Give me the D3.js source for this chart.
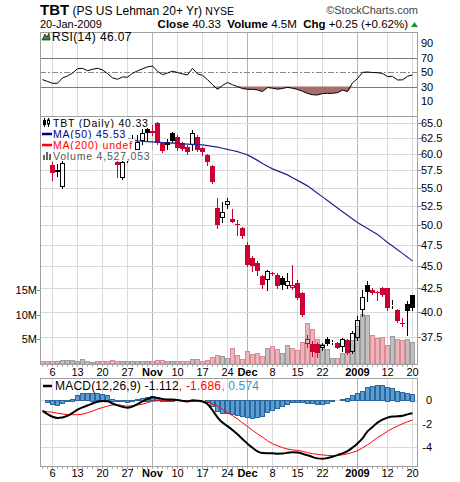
<!DOCTYPE html>
<html>
<head>
<meta charset="utf-8">
<script src="https://cdn.jsdelivr.net/npm/d3@7"></script>
<style>
  body { margin: 0; background: #fff; }
  text { font-family: "Liberation Sans", Arial, sans-serif; white-space: pre; }
</style>
</head>
<body>
<div id="chart"></div>
<script>

// trading days shown on the chart
const dates = [
    '2008-10-02','2008-10-03','2008-10-06','2008-10-07','2008-10-08','2008-10-09','2008-10-10','2008-10-13','2008-10-14','2008-10-15',
    '2008-10-16','2008-10-17','2008-10-20','2008-10-21','2008-10-22','2008-10-23','2008-10-24','2008-10-27','2008-10-28','2008-10-29',
    '2008-10-30','2008-10-31','2008-11-03','2008-11-04','2008-11-05','2008-11-06','2008-11-07','2008-11-10','2008-11-11','2008-11-12',
    '2008-11-13','2008-11-14','2008-11-17','2008-11-18','2008-11-19','2008-11-20','2008-11-21','2008-11-24','2008-11-25','2008-11-26',
    '2008-11-28','2008-12-01','2008-12-02','2008-12-03','2008-12-04','2008-12-05','2008-12-08','2008-12-09','2008-12-10','2008-12-11',
    '2008-12-12','2008-12-15','2008-12-16','2008-12-17','2008-12-18','2008-12-19','2008-12-22','2008-12-23','2008-12-24','2008-12-26',
    '2008-12-29','2008-12-30','2008-12-31','2009-01-02','2009-01-05','2009-01-06','2009-01-07','2009-01-08','2009-01-09','2009-01-12',
    '2009-01-13','2009-01-14','2009-01-15','2009-01-16','2009-01-20'
];

const opens = [
    61.4, 60.5, 58.31, 57.56, 55.06, 59.5, 60.6, 61.6, 62.4, 63.0,
    62.3, 63.5, 63.8, 62.6, 61.0, 58.80, 56.35, 59.1, 60.2, 60.60,
    62.0, 63.96, 63.6, 64.90, 61.60, 61.9, 63.25, 62.7, 61.65, 61.11,
    61.3, 62.70, 60.86, 59.82, 58.16, 52.17, 50.85, 52.61, 50.72, 50.1,
    49.56, 47.49, 45.89, 45.30, 43.78, 43.33, 44.19, 43.97, 43.6, 42.75,
    42.49, 43.04, 41.95, 36.81, 36.81, 36.8, 36.38, 37.32, 37.0, 36.91,
    36.50, 37.2, 36.07, 37.39, 40.19, 42.78, 42.31, 42.05, 42.45, 42.49,
    40.6, 40.19, 38.85, 40.79, 41.70
];
const highs = [
    62.0, 61.0, 58.8, 58.5, 59.06, 60.8, 61.8, 62.8, 63.6, 63.5,
    63.8, 64.6, 64.2, 62.9, 61.2, 59.3, 59.5, 61.0, 62.98, 62.9,
    63.9, 64.3, 64.6, 65.17, 61.9, 62.3, 63.4, 63.0, 61.9, 61.3,
    63.79, 62.9, 61.0, 60.0, 58.3, 53.53, 53.06, 53.6, 52.03, 50.63,
    49.7, 47.8, 46.1, 45.5, 43.97, 44.5, 44.3, 44.2, 43.8, 44.15,
    45.10, 43.4, 42.1, 37.7, 37.06, 36.95, 36.9, 37.45, 37.15, 37.0,
    37.4, 37.25, 38.05, 39.51, 42.31, 43.22, 42.5, 42.2, 42.6, 42.55,
    41.2, 40.25, 39.34, 41.06, 41.78
];
const lows = [
    60.3, 59.6, 56.11, 56.6, 55.0, 59.4, 60.2, 61.2, 61.9, 61.8,
    62.0, 63.0, 62.4, 60.9, 59.6, 56.58, 56.2, 58.8, 59.56, 60.3,
    61.5, 62.0, 62.9, 61.49, 60.2, 60.8, 61.8, 60.6, 60.5, 60.0,
    60.5, 60.4, 59.8, 58.3, 55.7, 49.56, 50.41, 52.17, 50.3, 48.72,
    48.3, 44.95, 44.34, 43.97, 42.49, 42.31, 43.9, 42.5, 42.4, 42.5,
    42.4, 41.3, 39.5, 36.5, 35.7, 35.6, 36.2, 36.7, 36.8, 36.4,
    36.16, 35.9, 35.95, 37.2, 39.51, 41.06, 41.8, 41.25, 41.6, 40.2,
    40.4, 38.95, 38.58, 37.70, 40.19
];
const closes = [
    60.7, 59.9, 57.17, 57.25, 58.56, 60.5, 61.5, 62.5, 63.2, 62.2,
    63.4, 64.0, 62.8, 61.3, 59.8, 58.31, 58.80, 59.2, 60.4, 61.90,
    63.25, 63.35, 63.2, 61.65, 60.45, 61.4, 62.0, 60.86, 60.8, 60.33,
    63.25, 60.60, 60.33, 58.80, 55.86, 49.98, 51.72, 53.20, 50.41, 49.95,
    48.51, 45.10, 44.91, 44.34, 42.86, 44.34, 44.08, 42.67, 42.8, 43.22,
    42.86, 41.42, 39.68, 37.32, 36.07, 36.0, 36.75, 36.85, 37.02, 36.44,
    37.32, 35.98, 37.87, 39.18, 41.50, 42.06, 41.95, 41.9, 41.70, 40.37,
    40.71, 39.08, 38.75, 40.08, 40.33
];
// volume, millions of shares
const volumes = [
    0.6, 0.6, 0.6, 0.6, 0.88, 0.88, 0.88, 0.6, 1.1, 0.6,
    0.4, 0.6, 0.6, 0.6, 0.88, 0.6, 0.6, 0.6, 0.6, 0.6,
    0.6, 0.6, 0.6, 0.88, 0.88, 0.6, 0.6, 0.6, 0.6, 0.6,
    1.1, 1.1, 0.6, 0.88, 1.43, 1.84, 1.6, 1.25, 3.25, 1.75,
    1.0, 2.6, 2.1, 2.3, 1.6, 3.35, 3.6, 3.0, 2.2, 3.95,
    3.3, 2.8, 4.5, 8.4, 7.2, 5.0, 4.0, 3.0, 1.2, 1.2,
    2.2, 3.5, 4.8, 7.7, 10.2, 10.0, 6.0, 5.4, 5.6, 3.8,
    5.8, 5.1, 4.9, 5.0, 4.527053
];
const ma50 = [
    null, null, null, null, null, null, null, null, null, null,
    null, null, null, null, 62.89, 62.70, 62.52, 62.35, 62.18, 62.01,
    61.95, 61.90, 61.85, 61.80, 61.75, 61.70, 61.65, 61.60, 61.54, 61.49,
    61.45, 61.42, 61.38, 61.26, 61.14, 61.02, 60.85, 60.67, 60.49, 60.31,
    60.07, 59.82, 59.40, 58.98, 58.50, 58.10, 57.71, 57.41, 57.12, 56.82,
    56.42, 56.03, 55.63, 55.24, 54.72, 54.21, 53.70, 53.20, 52.70, 52.20,
    51.70, 51.22, 50.75, 50.29, 49.90, 49.52, 49.14, 48.76, 48.27, 47.77,
    47.33, 46.89, 46.45, 46.00, 45.53
];
const rsi = [
    39.5, 37, 34.4, 34.4, 41.8, 44.5, 48.5, 54.5, 55.1, 51.8,
    53.8, 55.1, 53.0, 47.8, 42, 40, 43.2, 42.8, 48.3, 51.5,
    54.5, 57, 58.3, 51, 46.3, 48.6, 51.2, 49.3, 47.4, 46.1,
    55, 47.5, 45.4, 39.5, 32.5, 26.1, 31.5, 35.6, 32.4, 29.9,
    27.2, 26.1, 26.1, 25.3, 23, 28.5, 27.7, 26.3, 27.3, 28.8,
    27.6, 26, 23.4, 20.5, 18.6, 18.3, 20.3, 20.6, 20.6, 21.5,
    25, 23, 35, 41, 49.5, 50, 49.3, 49, 48, 43.7,
    44, 39, 39.2, 44, 46.07
];
const macd = [
    -0.9, -1.17, -1.4, -1.5, -1.46, -1.32, -1.08, -0.8, -0.6, -0.44,
    -0.27, -0.12, -0.05, -0.08, -0.27, -0.43, -0.55, -0.64, -0.53, -0.32,
    -0.1, 0.1, 0.27, 0.2, 0.12, 0.06, 0.06, 0.02, -0.05, -0.1,
    0, -0.03, -0.1, -0.32, -0.85, -1.45, -1.9, -2.2, -2.53, -2.9,
    -3.3, -3.7, -4.05, -4.35, -4.5, -4.51, -4.51, -4.55, -4.54, -4.48,
    -4.42, -4.45, -4.55, -4.68, -4.83, -4.95, -4.98, -4.92, -4.81, -4.67,
    -4.53, -4.33, -4.03, -3.68, -3.25, -2.65, -2.28, -1.9, -1.65, -1.48,
    -1.38, -1.37, -1.32, -1.2, -1.112
];
const signal = [
    -0.9, -0.97, -1.02, -1.1, -1.17, -1.22, -1.23, -1.23, -1.18, -1.05,
    -0.92, -0.75, -0.62, -0.5, -0.4, -0.37, -0.45, -0.5, -0.47, -0.4,
    -0.33, -0.2, -0.09, -0.05, -0.02, 0, 0, 0, -0.01, -0.04,
    -0.05, -0.07, -0.09, -0.17, -0.3, -0.48, -0.78, -1.05, -1.3, -1.6,
    -1.92, -2.23, -2.55, -2.87, -3.15, -3.45, -3.7, -3.88, -4.03, -4.15,
    -4.22, -4.27, -4.35, -4.45, -4.55, -4.6, -4.66, -4.7, -4.71, -4.69,
    -4.65, -4.56, -4.44, -4.3, -4.05, -3.8, -3.5, -3.18, -2.92, -2.65,
    -2.4, -2.2, -2.0, -1.82, -1.686
];
const hist = [
    0, -0.2, -0.38, -0.4, -0.29, -0.1, 0.15, 0.43, 0.58, 0.61,
    0.65, 0.63, 0.57, 0.42, 0.13, -0.06, -0.1, -0.14, -0.06, 0.08,
    0.23, 0.3, 0.36, 0.25, 0.14, 0.06, 0.06, 0.02, -0.04, -0.06,
    0.05, 0.04, -0.01, -0.15, -0.55, -0.97, -1.12, -1.15, -1.23, -1.3,
    -1.38, -1.47, -1.5, -1.48, -1.35, -1.06, -0.81, -0.67, -0.51, -0.33,
    -0.2, -0.18, -0.2, -0.23, -0.28, -0.35, -0.32, -0.22, -0.1, 0.02,
    0.12, 0.23, 0.41, 0.62, 0.8, 1.15, 1.22, 1.28, 1.27, 1.17,
    1.02, 0.83, 0.68, 0.62, 0.574
];

// axis ticks
const priceTicks = [37.5, 40, 42.5, 45, 47.5, 50, 52.5, 55, 57.5, 60, 62.5, 65];
const volumeTicks = [5, 10, 15];
const rsiTicks = [90, 70, 50, 30, 10];
const macdTicks = [0, -2, -4];
const xTickDates = ['2008-10-06','2008-10-13','2008-10-20','2008-10-27','2008-11-03','2008-11-10','2008-11-17',
                    '2008-11-24','2008-12-01','2008-12-08','2008-12-15','2008-12-22','2009-01-02','2009-01-12','2009-01-20'];
const xTickLabels = ['6','13','20','27','Nov','10','17','24','Dec','8','15','22','2009','12','20'];


// layout
const width = 460, height = 482;
const left = 40, right = 418;
const rsiTop = 32, rsiBot = 116;
const pxTop = 116, pxBot = 364;
const mdTop = 378, mdBot = 466;
const red = '#cc0033';
const last = dates.length - 1;
const crisp = v => Math.round(v) + 0.5;

const svg = d3.select('#chart')
    .append('svg')
      .attr('width', width)
      .attr('height', height);

// scales
const x      = d3.scaleLinear().domain([0, last]).range([42.5, 412.5]);
const yPrice = d3.scaleLog().domain([34.96, 66.1]).range([pxBot, pxTop]);
const yVol   = d3.scaleLinear().domain([0, 50.6]).range([pxBot, pxTop]);
const yRsi   = d3.scaleLinear().domain([-10.7, 105.2]).range([rsiBot, rsiTop]);
const yMacd  = d3.scaleLinear().domain([-5.6, 1.9]).range([mdBot, mdTop]);

const tickIdx = xTickDates.map(d => dates.indexOf(d));
const isMonth = (l) => !/^\d{1,2}$/.test(l);


// panel background + vertical grid
const panel = (top, bottom) => {
    const g = svg.append('g');
    g.append('rect')
        .attr('x', left).attr('y', top)
        .attr('width', right - left).attr('height', bottom - top)
        .attr('fill', '#fff');
    g.selectAll('line.vgrid')
        .data(tickIdx)
        .enter()
        .append('line')
          .attr('x1', d => x(d)).attr('x2', d => x(d))
          .attr('y1', top).attr('y2', bottom)
          .attr('stroke', (d, i) => isMonth(xTickLabels[i]) ? '#b4b4b4' : '#dadada');
    return g;
};

const border = (top, bottom) => {
    svg.append('rect')
        .attr('x', left + 0.5).attr('y', top + 0.5)
        .attr('width', right - left - 1).attr('height', bottom - top)
        .attr('fill', 'none')
        .attr('stroke', '#a0a0a0');
};

const dayTicks = (bottom) => {
    svg.append('g').selectAll('line')
        .data(dates)
        .enter()
        .append('line')
          .attr('x1', (d, i) => x(i)).attr('x2', (d, i) => x(i))
          .attr('y1', bottom + 1).attr('y2', bottom + 3)
          .attr('stroke', '#aaa');
};

const dateLabels = (baseline) => {
    svg.append('g').selectAll('text')
        .data(tickIdx)
        .enter()
        .append('text')
          .attr('x', d => x(d))
          .attr('y', baseline)
          .attr('text-anchor', 'middle')
          .style('font-size', '11px')
          .style('font-weight', (d, i) => isMonth(xTickLabels[i]) ? 'bold' : 'normal')
          .text((d, i) => xTickLabels[i]);
};


// ---------- header ----------
const head = svg.append('text').attr('x', 40).attr('y', 15);
head.append('tspan').style('font-size', '15px').style('font-weight', 'bold').text('TBT');
head.append('tspan').style('font-size', '12px').text(' (PS US Lehman 20+ Yr) ');
head.append('tspan').style('font-size', '10.5px').text('NYSE');

svg.append('text')
    .attr('x', 418).attr('y', 14)
    .attr('text-anchor', 'end')
    .style('font-size', '11px')
    .attr('fill', '#444')
    .text('\u00a9StockCharts.com');

svg.append('text')
    .attr('x', 40).attr('y', 28)
    .style('font-size', '11px')
    .text('20-Jan-2009');

const chg = closes[last] - closes[last - 1];
const line2 = svg.append('text')
    .attr('x', 408).attr('y', 28)
    .attr('text-anchor', 'end')
    .style('font-size', '11.5px');
line2.append('tspan').style('font-weight', 'bold').text('Close');
line2.append('tspan').text(` ${closes[last].toFixed(2)}  `);
line2.append('tspan').style('font-weight', 'bold').text('Volume');
line2.append('tspan').text(` ${volumes[last].toFixed(1)}M  `);
line2.append('tspan').style('font-weight', 'bold').text('Chg');
line2.append('tspan').text(` +${chg.toFixed(2)} (+${(chg / closes[last - 1] * 100).toFixed(2)}%)`);

svg.append('path')
    .attr('d', 'M411,27 L418,27 L414.5,22 Z')
    .attr('fill', '#1a9a1a');


// ---------- RSI panel ----------
panel(rsiTop, rsiBot);

svg.append('g').selectAll('line')
    .data([70, 50, 30])
    .enter()
    .append('line')
      .attr('x1', left).attr('x2', right)
      .attr('y1', d => crisp(yRsi(d))).attr('y2', d => crisp(yRsi(d)))
      .attr('stroke', d => d === 50 ? '#888' : '#7a7a7a')
      .attr('stroke-dasharray', d => d === 50 ? '6,2,2,2' : null);

const rsiArea = d3.area()
    .x((d, i) => x(i))
    .y0(yRsi(30))
    .y1(d => yRsi(Math.min(d, 30)));

svg.append('path')
    .attr('d', rsiArea(rsi))
    .attr('fill', '#a56f6f');

svg.append('path')
    .attr('d', d3.line().x((d, i) => x(i)).y(d => yRsi(d))(rsi))
    .attr('fill', 'none')
    .attr('stroke', '#000')
    .attr('stroke-width', 1);

border(rsiTop, rsiBot);

svg.append('g').selectAll('text')
    .data(rsiTicks)
    .enter()
    .append('text')
      .attr('x', 421)
      .attr('y', d => yRsi(d) + 4)
      .style('font-size', '11px')
      .text(d => d);

// RSI legend
svg.append('path')
    .attr('d', 'M42,40 L45,34 L47,37 L49,33 L50,40 Z')
    .attr('fill', '#3a8a3a')
    .attr('stroke', '#000')
    .attr('stroke-width', 0.6);
svg.append('text')
    .attr('x', 52).attr('y', 41)
    .style('font-size', '12px')
    .style('letter-spacing', '0.4px')
    .text(`RSI(14) ${rsi[last].toFixed(2)}`);


// ---------- price + volume panel ----------
panel(pxTop, pxBot);

svg.append('g').selectAll('line')
    .data(priceTicks)
    .enter()
    .append('line')
      .attr('x1', left).attr('x2', right)
      .attr('y1', d => crisp(yPrice(d))).attr('y2', d => crisp(yPrice(d)))
      .attr('stroke', '#dadada');

const up = closes.map((c, i) => i > 0 && c >= closes[i - 1]);

// volume bars
svg.append('g').selectAll('rect')
    .data(volumes)
    .enter()
    .append('rect')
      .attr('x', (d, i) => x(i) - 2)
      .attr('y', d => crisp(yVol(d)))
      .attr('width', 4)
      .attr('height', d => Math.max(1, pxBot - crisp(yVol(d))))
      .attr('fill', (d, i) => up[i] ? '#c0c0c0' : '#ebb6bb')
      .attr('stroke', (d, i) => up[i] ? '#9c9c9c' : '#d98a93');

// candles
const candles = svg.append('g')
    .selectAll('g')
    .data(dates.map((d, i) => i))
    .enter()
    .append('g');

candles.each(function (i) {
    const g = d3.select(this);
    const col = up[i] ? '#000' : red;
    const top = Math.max(opens[i], closes[i]);
    const bot = Math.min(opens[i], closes[i]);
    const yt = Math.round(yPrice(top));
    const yb = Math.max(yt + 1, Math.round(yPrice(bot)));
    g.append('line')
        .attr('x1', x(i)).attr('x2', x(i))
        .attr('y1', Math.round(yPrice(highs[i]))).attr('y2', yt)
        .attr('stroke', col);
    g.append('line')
        .attr('x1', x(i)).attr('x2', x(i))
        .attr('y1', yb).attr('y2', Math.round(yPrice(lows[i])) + 1)
        .attr('stroke', col);
    if (closes[i] < opens[i]) {
        g.append('rect')
            .attr('x', x(i) - 2.5).attr('y', yt)
            .attr('width', 5).attr('height', yb - yt)
            .attr('fill', col);
    } else {
        g.append('rect')
            .attr('x', x(i) - 2).attr('y', yt + 0.5)
            .attr('width', 4).attr('height', Math.max(0, yb - yt - 1))
            .attr('fill', 'none')
            .attr('stroke', col);
    }
});

// 50-day moving average
svg.append('path')
    .attr('d', d3.line()
        .defined(d => d !== null)
        .x((d, i) => x(i))
        .y(d => yPrice(d))(ma50))
    .attr('fill', 'none')
    .attr('stroke', '#22229a')
    .attr('stroke-width', 1.2);

border(pxTop, pxBot);
dayTicks(pxBot);

svg.append('g').selectAll('text')
    .data(priceTicks)
    .enter()
    .append('text')
      .attr('x', 421)
      .attr('y', d => yPrice(d) + 4)
      .style('font-size', '11px')
      .text(d => d3.format('.1f')(d));

svg.append('g').selectAll('line')
    .data(priceTicks)
    .enter()
    .append('line')
      .attr('x1', right).attr('x2', right + 3)
      .attr('y1', d => crisp(yPrice(d))).attr('y2', d => crisp(yPrice(d)))
      .attr('stroke', '#888');

// volume axis, left
svg.append('g').selectAll('text')
    .data(volumeTicks)
    .enter()
    .append('text')
      .attr('x', 37)
      .attr('y', d => yVol(d) + 4)
      .attr('text-anchor', 'end')
      .style('font-size', '11px')
      .text(d => `${d}M`);

svg.append('g').selectAll('line')
    .data(volumeTicks)
    .enter()
    .append('line')
      .attr('x1', 37).attr('x2', 40)
      .attr('y1', d => crisp(yVol(d))).attr('y2', d => crisp(yVol(d)))
      .attr('stroke', '#888');

dateLabels(376);

// price legend
const legendRows = [
    { text: `TBT (Daily) ${closes[last].toFixed(2)}`,        color: '#000',    mark: 'candle' },
    { text: `MA(50) ${ma50[last].toFixed(2)}`,               color: '#000080', mark: 'dash', markColor: '#000080' },
    { text: 'MA(200) undef',                                 color: '#ff0000', mark: 'dash', markColor: '#ff0000' },
    { text: `Volume ${d3.format(',')(Math.round(volumes[last] * 1e6))}`, color: '#555', mark: 'bars' }
];

const legend = svg.append('g');
legendRows.forEach((row, k) => {
    const base = 127 + k * 11;
    const bg = legend.append('rect')
        .attr('x', left + 1).attr('y', base - 10)
        .attr('height', 11)
        .attr('fill', '#fff');
    const t = legend.append('text')
        .attr('x', 53).attr('y', base)
        .style('font-size', '10.5px')
        .style('letter-spacing', '0.8px')
        .attr('fill', row.color)
        .text(row.text);
    bg.attr('width', 53 + t.node().getComputedTextLength() + 2 - left - 1);
    if (row.mark === 'dash') {
        legend.append('line')
            .attr('x1', 42).attr('x2', 52)
            .attr('y1', base - 4).attr('y2', base - 4)
            .attr('stroke', row.markColor)
            .attr('stroke-width', 2.5);
    } else if (row.mark === 'candle') {
        legend.append('line').attr('x1', 44.5).attr('x2', 44.5).attr('y1', base - 9).attr('y2', base).attr('stroke', '#000');
        legend.append('rect').attr('x', 43).attr('y', base - 7).attr('width', 3).attr('height', 5).attr('fill', '#000');
        legend.append('line').attr('x1', 48.5).attr('x2', 48.5).attr('y1', base - 9).attr('y2', base).attr('stroke', '#000');
        legend.append('rect').attr('x', 47.5).attr('y', base - 7).attr('width', 2).attr('height', 4).attr('fill', '#fff').attr('stroke', '#000');
    } else {
        [[43, 5], [46, 8], [49, 6]].forEach(([bx, bh]) => {
            legend.append('rect')
                .attr('x', bx).attr('y', base - bh)
                .attr('width', 2).attr('height', bh)
                .attr('fill', '#666');
        });
    }
});


// ---------- MACD panel ----------
panel(mdTop, mdBot);

svg.append('g').selectAll('line')
    .data(macdTicks)
    .enter()
    .append('line')
      .attr('x1', left).attr('x2', right)
      .attr('y1', d => crisp(yMacd(d))).attr('y2', d => crisp(yMacd(d)))
      .attr('stroke', '#dadada');

svg.append('g').selectAll('rect')
    .data(hist)
    .enter()
    .append('rect')
      .attr('x', (d, i) => x(i) - 2)
      .attr('y', d => Math.round(Math.min(yMacd(d), yMacd(0))) + 0.5)
      .attr('width', 4)
      .attr('height', d => Math.max(0, Math.round(Math.abs(yMacd(d) - yMacd(0)))))
      .attr('fill', '#5a9fd2')
      .attr('stroke', '#2d679e');

svg.append('path')
    .attr('d', d3.line().x((d, i) => x(i)).y(d => yMacd(d)).curve(d3.curveMonotoneX)(signal))
    .attr('fill', 'none')
    .attr('stroke', '#ff0000')
    .attr('stroke-width', 1);

svg.append('path')
    .attr('d', d3.line().x((d, i) => x(i)).y(d => yMacd(d)).curve(d3.curveMonotoneX)(macd))
    .attr('fill', 'none')
    .attr('stroke', '#000')
    .attr('stroke-width', 2);

border(mdTop, mdBot);
dayTicks(mdBot);

svg.append('g').selectAll('text')
    .data(macdTicks)
    .enter()
    .append('text')
      .attr('x', 432)
      .attr('y', d => yMacd(d) + 4)
      .attr('text-anchor', 'end')
      .style('font-size', '11px')
      .text(d => d);

dateLabels(477);

// MACD legend
const mLegend = svg.append('text')
    .attr('x', 55).attr('y', 390)
    .style('font-size', '12px')
    .style('letter-spacing', '0.2px');
mLegend.append('tspan').attr('fill', '#000').text(`MACD(12,26,9) ${macd[last].toFixed(3)}`);
mLegend.append('tspan').attr('fill', '#ff0000').text(`, ${signal[last].toFixed(3)}`);
mLegend.append('tspan').attr('fill', '#3399cc').text(`, ${hist[last].toFixed(3)}`);

svg.append('line')
    .attr('x1', 43).attr('x2', 52)
    .attr('y1', 386).attr('y2', 386)
    .attr('stroke', '#000')
    .attr('stroke-width', 2.5);

</script>
</body>
</html>
